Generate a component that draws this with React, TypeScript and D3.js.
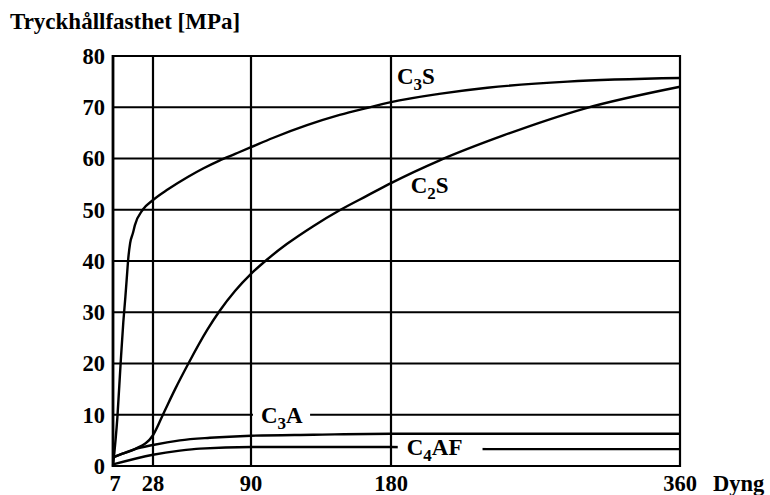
import React, { useRef, useEffect } from 'react';
import * as d3 from 'd3';

// Dygn (x) och tryckhållfasthet i MPa (y)
const xTicks = [7, 28, 90, 180, 360];
const yTicks = [0, 10, 20, 30, 40, 50, 60, 70, 80];

const c3sDays = [7, 9.3, 11, 12.4, 13.5, 14.5, 14.9, 16, 17.5, 18.5, 22.6, 28, 37.5, 50, 60, 70, 80, 90, 104, 126, 147, 165, 180, 210, 240, 290, 360];
const c3sValues = [0, 9.5, 20, 28, 33, 38, 40, 43.5, 45.5, 47, 50, 51.9, 54.0, 56.4, 58.1, 59.6, 60.9, 62.2, 64.0, 66.5, 68.5, 69.9, 71, 72.6, 73.8, 75.0, 75.7];

const c2sDays = [7, 12, 18.5, 28, 35, 42, 50.4, 62.2, 70, 80, 90, 100, 113, 130, 147, 165, 180, 210, 250, 300, 360];
const c2sValues = [1.7, 2.4, 3.3, 6.0, 10.5, 15, 20, 26.5, 30.2, 34.2, 37.5, 40.2, 43.3, 46.8, 49.9, 52.8, 55.2, 59.6, 64.5, 69.7, 74];

const c3aDays = [7, 12, 18.5, 28, 45, 64, 90, 130, 180, 360];
const c3aValues = [1.7, 2.4, 3.3, 4.1, 5.0, 5.5, 5.9, 6.1, 6.3, 6.3];

const c4afDays = [7, 28, 45, 57.7, 90, 147, 180, 240, 360];
const c4afValues = [0.3, 2.2, 3.0, 3.4, 3.7, 3.7, 3.7, 3.3, 3.3];

const series = [
  { name: 'C3S', days: c3sDays, values: c3sValues },
  { name: 'C2S', days: c2sDays, values: c2sValues },
  { name: 'C3A', days: c3aDays, values: c3aValues },
  { name: 'C4AF', days: c4afDays, values: c4afValues },
];

// etiketter: huvudtext, index, resten, position i data
const labels = [
  { main: 'C', sub: '3', rest: 'S', day: 183.7, value: 74.5, gapValue: null, padL: 0, padR: 0 },
  { main: 'C', sub: '2', rest: 'S', day: 192.3, value: 53.3, gapValue: null, padL: 0, padR: 0 },
  { main: 'C', sub: '3', rest: 'A', day: 96.4, value: 8.3, gapValue: 10, padL: 8, padR: 7 },
  { main: 'C', sub: '4', rest: 'AF', day: 189.8, value: 2.05, gapValue: 3.6, padL: 9, padR: 20 },
];

const FONT = '"Liberation Serif", "Times New Roman", serif';

const App = () => {
  const ref = useRef<SVGSVGElement>(null);

  useEffect(() => {
    const svg = d3.select(ref.current);
    svg.selectAll('*').remove();

    const left = 113;
    const top = 56;
    const bottom = 466;

    // handritad axel: ej helt linjär mellan markeringarna
    const x = d3.scaleLinear()
      .domain(xTicks)
      .range([left, left + 40, left + 138, left + 278, left + 567]);

    const y = d3.scaleLinear()
      .domain([0, 80])
      .range([bottom, top]);

    const g = svg.append('g');

    // rutnät
    g.selectAll('line.h')
      .data(yTicks)
      .enter().append('line')
      .attr('x1', x(7)).attr('x2', x(360))
      .attr('y1', d => y(d)).attr('y2', d => y(d))
      .attr('stroke', '#000').attr('stroke-width', 2.2);

    g.selectAll('line.v')
      .data(xTicks)
      .enter().append('line')
      .attr('x1', d => x(d)).attr('x2', d => x(d))
      .attr('y1', y(0) + 1).attr('y2', y(80) - 1)
      .attr('stroke', '#000')
      .attr('stroke-width', d => (d === 7 ? 2.8 : 2.2));

    // kurvor
    const line = d3.line<[number, number]>()
      .x(d => x(d[0]))
      .y(d => y(d[1]))
      .curve(d3.curveMonotoneX);

    series.forEach(s => {
      g.append('path')
        .datum(s.days.map((d, i) => [d, s.values[i]] as [number, number]))
        .attr('d', line)
        .attr('fill', 'none')
        .attr('stroke', '#000')
        .attr('stroke-width', 2.4)
        .attr('stroke-linejoin', 'round');
    });

    // etiketter
    labels.forEach(l => {
      const t = g.append('text')
        .attr('x', x(l.day))
        .attr('y', y(l.value))
        .attr('font-family', FONT)
        .attr('font-weight', 'bold')
        .attr('font-size', 23);
      t.append('tspan').text(l.main);
      t.append('tspan').attr('font-size', 17).attr('dy', 6).text(l.sub);
      t.append('tspan').attr('dy', -6).text(l.rest);

      if (l.gapValue !== null) {
        const bb = (t.node() as SVGTextElement).getBBox();
        g.insert('rect', () => t.node())
          .attr('x', bb.x - l.padL)
          .attr('width', bb.width + l.padL + l.padR)
          .attr('y', y(l.gapValue) - 4)
          .attr('height', 8)
          .attr('fill', '#fff');
      }
    });

    // axeltexter
    g.selectAll('text.y')
      .data(yTicks)
      .enter().append('text')
      .attr('x', 105)
      .attr('y', d => y(d))
      .attr('dy', '0.35em')
      .attr('text-anchor', 'end')
      .attr('font-family', FONT)
      .attr('font-weight', 'bold')
      .attr('font-size', 22.5)
      .text(d => d);

    g.selectAll('text.x')
      .data(xTicks)
      .enter().append('text')
      .attr('x', d => x(d) + (d === 7 ? 2 : 0))
      .attr('y', 491)
      .attr('text-anchor', 'middle')
      .attr('font-family', FONT)
      .attr('font-weight', 'bold')
      .attr('font-size', 22.5)
      .text(d => d);

    g.append('text')
      .attr('x', 713)
      .attr('y', 491)
      .attr('font-family', FONT)
      .attr('font-weight', 'bold')
      .attr('font-size', 22.5)
      .text('Dyng');

    g.append('text')
      .attr('x', 10)
      .attr('y', 29)
      .attr('font-family', FONT)
      .attr('font-weight', 'bold')
      .attr('font-size', 23)
      .text('Tryckhållfasthet [MPa]');
  }, []);

  return (
    <div style={{ position: 'absolute', left: 0, top: 0 }}>
      <svg ref={ref} width={770} height={495} style={{ display: 'block', background: '#fff' }} />
    </div>
  );
};

export default App;
